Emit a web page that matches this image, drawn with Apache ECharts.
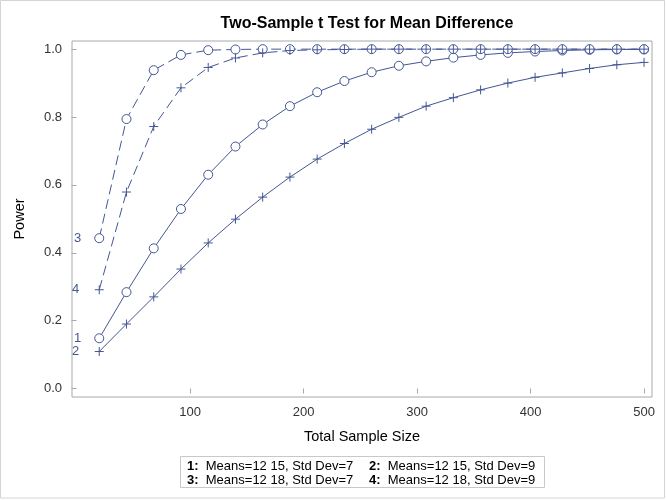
<!DOCTYPE html>
<html><head><meta charset="utf-8">
<script src="https://cdn.jsdelivr.net/npm/echarts@6/dist/echarts.min.js"></script>
<style>html,body{margin:0;padding:0;background:#fff}#c{width:666px;height:500px}</style>
</head><body><div id="c"></div><script>
const sampleSize = [20,44,68,92,116,140,164,188,212,236,260,284,308,332,356,380,404,428,452,476,500];
const power1 = [0.148,0.284,0.413,0.529,0.630,0.713,0.778,0.832,0.873,0.906,0.932,0.951,0.964,0.975,0.983,0.989,0.993,0.996,0.998,0.999,0.999];
const power2 = [0.109,0.190,0.270,0.352,0.429,0.499,0.564,0.623,0.676,0.722,0.764,0.799,0.832,0.857,0.880,0.900,0.917,0.930,0.943,0.954,0.961];
const power3 = [0.443,0.794,0.938,0.983,0.997,0.999,1.0,1.0,1.0,1.0,1.0,1.0,1.0,1.0,1.0,1.0,1.0,1.0,1.0,1.0,1.0];
const power4 = [0.291,0.579,0.772,0.886,0.946,0.974,0.989,0.996,0.998,0.999,1.0,1.0,1.0,1.0,1.0,1.0,1.0,1.0,1.0,1.0,1.0];
const curveIds = ['1','2','3','4'];
const legendTexts = ['Means=12 15, Std Dev=7','Means=12 15, Std Dev=9','Means=12 18, Std Dev=7','Means=12 18, Std Dev=9'];
const xTicks = [100,200,300,400,500];
const yTicks = [0,0.2,0.4,0.6,0.8,1.0];

const C = '#445694';
const F = 'Liberation Sans, Arial, sans-serif';
const plusPath = 'path://M0,5L10,5M5,0L5,10';
function mk(id, vals, sym, dashed){
  return {
    type:'line', name:id,
    data: sampleSize.map((x,i)=>{
      const d = {value:[x, vals[i]]};
      if(i===0){ d.label = {show:true, position:'left', distance:13, formatter:id, color:C, fontSize:13, fontFamily:F}; }
      return d;
    }),
    symbol: sym==='circle' ? 'circle' : plusPath,
    symbolSize: sym==='circle' ? 9 : 9,
    showAllSymbol:true,
    lineStyle:{color:C, width:1, type: dashed ? [10,5] : 'solid'},
    itemStyle: sym==='circle' ? {color:'#fff', borderColor:C, borderWidth:1} : {color:'none', borderColor:C, borderWidth:1},
    emphasis:{disabled:true},
    animation:false, z: 2
  };
}
function legendItem(i, x, y){
  return {type:'text', x:x, y:y, style:{text:'{b|'+curveIds[i]+':}  '+legendTexts[i],
    rich:{b:{fontWeight:'bold', fontFamily:F, fontSize:13, fill:'#000'}},
    fontFamily:F, fontSize:13, fill:'#000', verticalAlign:'middle'}};
}
const chart = echarts.init(document.getElementById('c'), null, {renderer:'canvas'});
chart.setOption({
  animation:false,
  backgroundColor:'#fff',
  title:{text:'Two-Sample t Test for Mean Difference', left:362, top:11, textAlign:'center',
    textStyle:{fontFamily:F, fontSize:16, fontWeight:'bold', color:'#000'}},
  grid:{left:72, right:14, top:41, bottom:103, show:true, borderColor:'#a8a8a8', borderWidth:1, containLabel:false},
  xAxis:{type:'value', min:-4, max:507,
    name:'Total Sample Size', nameLocation:'middle', nameGap:32,
    nameTextStyle:{fontFamily:F, fontSize:14.5, color:'#000'},
    axisLine:{show:false}, splitLine:{show:false},
    axisTick:{show:true, length:5, lineStyle:{color:'#a8a8a8'}, customValues:xTicks},
    axisLabel:{fontFamily:F, fontSize:13, color:'#333', margin:9, customValues:xTicks}},
  yAxis:{type:'value', min:-0.025, max:1.024,
    name:'Power', nameLocation:'middle', nameGap:45,
    nameTextStyle:{fontFamily:F, fontSize:14.5, color:'#000'},
    axisLine:{show:false}, splitLine:{show:false},
    axisTick:{show:true, length:5, lineStyle:{color:'#a8a8a8'}, customValues:yTicks},
    axisLabel:{fontFamily:F, fontSize:13, color:'#333', margin:10, customValues:yTicks, formatter:v=>v.toFixed(1)}},
  series:[mk('1',power1,'circle',false), mk('2',power2,'plus',false), mk('3',power3,'circle',true), mk('4',power4,'plus',true)],
  graphic:[
    {type:'rect', shape:{x:0.5,y:0.5,width:664,height:497.5}, style:{fill:'none', stroke:'#d4d4d4', lineWidth:1}, silent:true},
    {type:'rect', shape:{x:180.5,y:456.5,width:364,height:31}, style:{fill:'#fff', stroke:'#c8c8c8', lineWidth:1}, silent:true},
    legendItem(0,187,466), legendItem(1,369,466), legendItem(2,187,480), legendItem(3,369,480)
  ]
});
</script></body></html>
